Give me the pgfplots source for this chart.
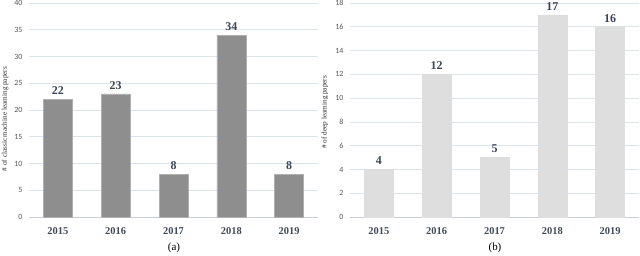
\documentclass[border=0pt]{standalone}
\usepackage{fontspec}
\setmainfont{Liberation Serif}
\newfontfamily\tickfont{Carlito}
\usepackage{pgfplots}
\pgfplotsset{compat=1.18}
\definecolor{barA}{HTML}{8E8E8E}
\definecolor{barB}{HTML}{DEDEDE}
\definecolor{gridc}{HTML}{DCE3EA}
\definecolor{tickc}{HTML}{595959}
\definecolor{valc}{HTML}{3A4556}
\definecolor{yearc}{HTML}{404A58}
\pgfplotsset{
  common/.style={
    anchor=south west, scale only axis,
    width=289bp, height=214bp,
    xmin=-0.5, xmax=4.5, ymin=0,
    ybar, bar width=29bp,
    xtick={0,1,2,3,4},
    xticklabels={2015,2016,2017,2018,2019},
    axis x line*=bottom, axis y line*=left,
    y axis line style={draw=none},
    x axis line style={draw=gridc!80!gray, line width=0.8pt},
    xtick style={draw=none}, ytick style={draw=none},
    ymajorgrids, grid style={gridc, line width=0.6pt},
    /pgf/number format/assume math mode=true,
    yticklabel style={font=\tickfont\fontsize{8}{9}\selectfont, text=tickc, xshift=-3bp},
    xticklabel style={font=\bfseries\fontsize{10.5}{12}\selectfont, text=yearc, yshift=-3bp},
    ylabel style={font=\fontsize{7.2}{8}\selectfont, text=black!85, anchor=center},
    nodes near coords,
    every node near coord/.append style={font=\bfseries\fontsize{12}{13}\selectfont, text=valc, yshift=1bp},
    clip=false,
  }
}
\begin{document}
\begin{tikzpicture}[x=1bp,y=1bp]
\path[use as bounding box] (0,0) rectangle (640,255);
\begin{axis}[common, at={(29bp,38bp)}, ymax=40, ytick distance=5,
  ylabel={\# of classic machine learning papers},
  ylabel style={at={(axis description cs:-0.083,0.458)}}]
\addplot[fill=barA, draw=barA!70!white, line width=0.5pt] coordinates {(0,22) (1,23) (2,8) (3,34) (4,8)};
\end{axis}
\begin{axis}[common, at={(350bp,38bp)}, ymax=18, ytick distance=2,
  ylabel={\# of deep learning papers},
  ylabel style={at={(axis description cs:-0.087,0.49)}}]
\addplot[fill=barB, draw=barB, line width=0.5pt] coordinates {(0,4) (1,12) (2,5) (3,17) (4,16)};
\end{axis}
\node[font=\fontsize{11}{13}\selectfont] at (174,7) {(a)};
\node[font=\fontsize{11}{13}\selectfont] at (495,7) {(b)};
\end{tikzpicture}
\end{document}
